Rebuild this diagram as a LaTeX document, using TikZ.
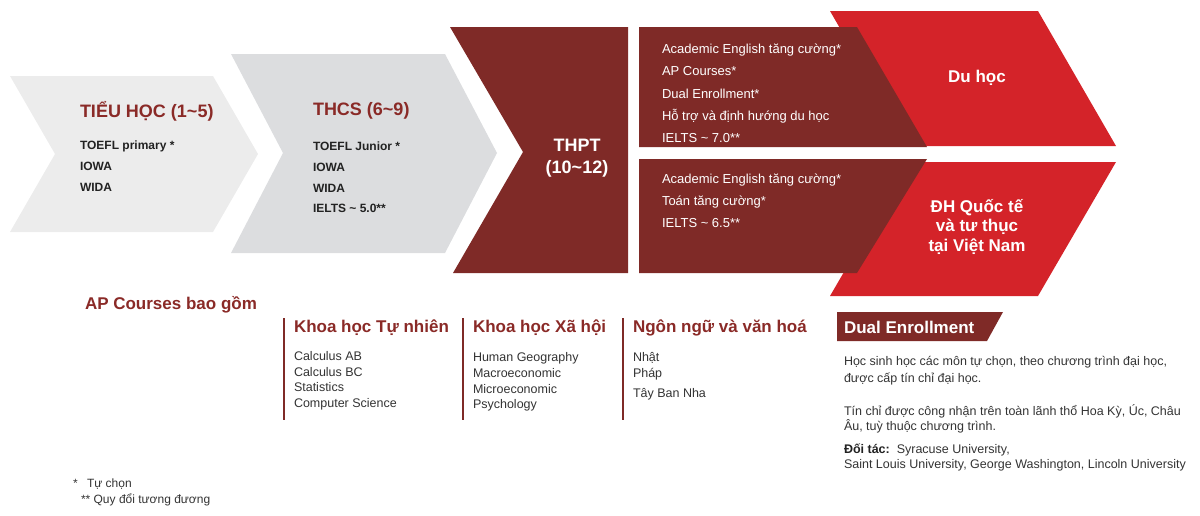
\documentclass[tikz,border=0pt]{standalone}
\usepackage{fontspec}
\setmainfont{Liberation Sans}
\definecolor{lgray}{HTML}{ECECEC}
\definecolor{mgray}{HTML}{DCDDDF}
\definecolor{dred}{HTML}{7F2A27}
\definecolor{bred}{HTML}{D42329}
\definecolor{tred}{HTML}{8A2A27}
\definecolor{ink}{HTML}{222222}
\definecolor{bodyc}{HTML}{333333}
\tikzset{
 txt/.style={anchor=base west, inner sep=0pt, outer sep=0pt},
 ttl/.style={txt, font=\fontsize{18}{20}\selectfont\bfseries, text=tred},
 itm/.style={txt, font=\fontsize{12}{14}\selectfont\bfseries, text=ink},
 wtxt/.style={txt, font=\fontsize{13}{15}\selectfont, text=white},
 wbold/.style={anchor=base, inner sep=0pt, font=\fontsize{18}{20}\selectfont\bfseries, text=white},
 hd/.style={txt, font=\fontsize{17}{19}\selectfont\bfseries, text=tred},
 li/.style={txt, font=\fontsize{12.5}{14}\selectfont, text=bodyc},
 para/.style={txt, font=\fontsize{12.5}{14}\selectfont, text=bodyc},
 fn/.style={txt, font=\fontsize{12}{14}\selectfont, text=bodyc},
 vbar/.style={draw=dred, line width=1.3pt},
}
\begin{document}
\begin{tikzpicture}[x=1pt,y=-1pt]
\useasboundingbox (0,0) rectangle (1200,515);
% chevrons
\fill[lgray] (10,76) -- (213,76) -- (258,154) -- (213,232) -- (10,232) -- (55,154) -- cycle;
\fill[mgray] (231,54) -- (445,54) -- (497,153) -- (445,253) -- (231,253) -- (283,153) -- cycle;
\fill[dred] (450,27) -- (628,27) -- (628,273) -- (453,273) -- (523,152) -- cycle;
\fill[bred] (830,11) -- (1038,11) -- (1116,146) -- (908,146) -- cycle;
\fill[bred] (908,162) -- (1116,162) -- (1038,296) -- (830,296) -- cycle;
\fill[dred] (639,27) -- (857,27) -- (927,147) -- (639,147) -- cycle;
\fill[dred] (639,159) -- (927,159) -- (857,273) -- (639,273) -- cycle;
\fill[dred] (837,312) -- (1003,312) -- (987,341) -- (837,341) -- cycle;

% column 1
\node[ttl] (t1) at (80,117) {TIỂU HỌC (1\char`~5)};
\node[itm] (t1a) at (80,149) {TOEFL primary *};
\node[itm] (t1b) at (80,170) {IOWA};
\node[itm] (t1c) at (80,191) {WIDA};
% column 2
\node[ttl] (t2) at (313,115) {THCS (6\char`~9)};
\node[itm] (t2a) at (313,150) {TOEFL Junior *};
\node[itm] (t2b) at (313,171) {IOWA};
\node[itm] (t2c) at (313,192) {WIDA};
\node[itm] (t2d) at (313,212) {IELTS \char`~\ 5.0**};
% THPT
\node[wbold] (t3a) at (577,151) {THPT};
\node[wbold] (t3b) at (577,173) {(10\char`~12)};
% upper box
\node[wtxt] (u1) at (662,53) {Academic English tăng cường*};
\node[wtxt] (u2) at (662,75) {AP Courses*};
\node[wtxt] (u3) at (662,98) {Dual Enrollment*};
\node[wtxt] (u4) at (662,120) {Hỗ trợ và định hướng du học};
\node[wtxt] (u5) at (662,142) {IELTS \char`~\ 7.0**};
% lower box
\node[wtxt] (l1) at (662,183) {Academic English tăng cường*};
\node[wtxt] (l2) at (662,205) {Toán tăng cường*};
\node[wtxt] (l3) at (662,227) {IELTS \char`~\ 6.5**};
% red
\node[wbold, font=\fontsize{17}{19}\selectfont\bfseries] (r1) at (977,82) {Du học};
\node[wbold, font=\fontsize{17}{19}\selectfont\bfseries] (r2a) at (977,212) {ĐH Quốc tế};
\node[wbold, font=\fontsize{17}{19}\selectfont\bfseries] (r2b) at (977,231) {và tư thục};
\node[wbold, font=\fontsize{17}{19}\selectfont\bfseries] (r2c) at (977,251) {tại Việt Nam};

% AP courses
\node[hd] (ap) at (85,309) {AP Courses bao gồm};
\draw[vbar] (284,318) -- (284,420);
\node[hd] (h1) at (294,332) {Khoa học Tự nhiên};
\node[li] (h1a) at (294,360) {Calculus AB};
\node[li] (h1b) at (294,376) {Calculus BC};
\node[li] (h1c) at (294,391) {Statistics};
\node[li] (h1d) at (294,407) {Computer Science};
\draw[vbar] (463,318) -- (463,420);
\node[hd] (h2) at (473,332) {Khoa học Xã hội};
\node[li] (h2a) at (473,361) {Human Geography};
\node[li] (h2b) at (473,377) {Macroeconomic};
\node[li] (h2c) at (473,393) {Microeconomic};
\node[li] (h2d) at (473,408) {Psychology};
\draw[vbar] (623,318) -- (623,420);
\node[hd] (h3) at (633,332) {Ngôn ngữ và văn hoá};
\node[li] (h3a) at (633,361) {Nhật};
\node[li] (h3b) at (633,377) {Pháp};
\node[li] (h3c) at (633,397) {Tây Ban Nha};

% Dual enrollment
\node[txt, font=\fontsize{17}{19}\selectfont\bfseries, text=white] (de) at (844,333) {Dual Enrollment};
\node[para] (p1) at (844,365) {Học sinh học các môn tự chọn, theo chương trình đại học,};
\node[para] (p2) at (844,382) {được cấp tín chỉ đại học.};
\node[para] (p3) at (844,415) {Tín chỉ được công nhận trên toàn lãnh thổ Hoa Kỳ, Úc, Châu};
\node[para] (p4) at (844,430) {Âu, tuỳ thuộc chương trình.};
\node[para] (p5) at (844,453) {\textbf{\color{ink}Đối tác:}\ \ Syracuse University,};
\node[para] (p6) at (844,468) {Saint Louis University, George Washington, Lincoln University};

% footnotes
\node[fn] (f1) at (73,487) {*};
\node[fn] (f1t) at (87,487) {Tự chọn};
\node[fn] (f2) at (81,503) {** Quy đổi tương đương};
\end{tikzpicture}
\end{document}
